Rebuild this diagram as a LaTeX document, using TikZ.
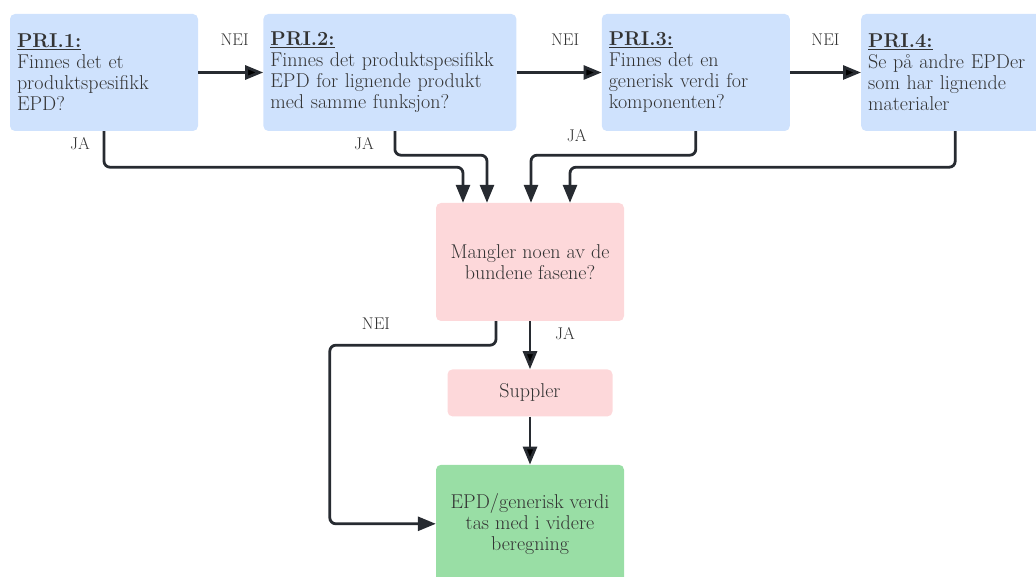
\documentclass[tikz,border=0pt]{standalone}
\usepackage{fontspec}
\usepackage{tikz}
\usetikzlibrary{arrows,arrows.meta,positioning}
\definecolor{priblue}{HTML}{CFE2FD}
\definecolor{checkpink}{HTML}{FDD8DA}
\definecolor{donegreen}{HTML}{99DEA5}
\definecolor{linegrey}{HTML}{272B31}
\definecolor{textgrey}{HTML}{333333}
\tikzset{
    %Define standard arrow tip
    >={Triangle[length=18pt,width=14pt]},
    %Define style for question boxes
    pribox/.style={
           rectangle,
           rounded corners=5pt,
           fill=priblue,
           text=textgrey,
           inner sep=7pt,
           text width=#1,
           minimum height=117pt,
           align=left,
           font=\fontsize{20}{21}\selectfont},
    checkbox/.style={
           rectangle,
           rounded corners=5pt,
           fill=checkpink,
           text=textgrey,
           minimum width=188pt,
           minimum height=118pt,
           align=center,
           font=\fontsize{20}{21}\selectfont},
    donebox/.style={
           checkbox,
           fill=donegreen},
    lbl/.style={
           inner sep=0pt,
           text=textgrey,
           font=\fontsize{17}{17}\selectfont},
    % Define arrow style
    flow/.style={
           ->,
           draw=linegrey,
           line width=2.8pt,
           rounded corners=6pt}
}

\begin{document}
\begin{tikzpicture}[x=1pt,y=1pt,node distance=48pt]
\useasboundingbox (0,0) rectangle (1036,-577);
\clip (0,0) rectangle (1036,-577);
\node[pribox=174pt](pri1) at (104,-72.5){\underline{\textbf{PRI.1:}}\\Finnes det et\\produktspesifikk\\EPD?};
\node[pribox=239pt, right=65pt of pri1](pri2){\underline{\textbf{PRI.2:}}\\Finnes det produktspesifikk\\EPD for lignende produkt\\med samme funksjon?};
\node[pribox=174pt, right=85pt of pri2](pri3){\underline{\textbf{PRI.3:}}\\Finnes det en\\generisk verdi for\\komponenten?};
\node[pribox=174pt, right=71pt of pri3](pri4){\underline{\textbf{PRI.4:}}\\Se på andre EPDer\\som har lignende\\materialer};
\node[checkbox](mangler) at (530,-262){Mangler noen av de\\bundene fasene?};
\node[checkbox, minimum width=165pt, minimum height=47pt, below=of mangler](suppler){Suppler};
\node[donebox, below=of suppler](epd){EPD/generisk verdi\\tas med i videre\\beregning};

\path[flow]
	(pri1) edge node[lbl, midway, yshift=33pt, xshift=4pt](nei1){NEI} (pri2)
	(pri2) edge node[lbl, midway, yshift=33pt, xshift=6pt](nei2){NEI} (pri3)
	(pri3) edge node[lbl, midway, yshift=33pt](nei3){NEI} (pri4)
	(mangler) edge (suppler)
	(suppler) edge (epd);

\draw[flow] (pri1.south) -- ++(0,-36) -| ([xshift=-67pt]mangler.north);
\draw[flow] ([xshift=5pt]pri2.south) -- ++(0,-24) -| ([xshift=-43pt]mangler.north);
\draw[flow] (pri3.south) -- ++(0,-24) -| ([xshift=1pt]mangler.north);
\draw[flow] (pri4.south) -- ++(0,-36) -| ([xshift=40pt]mangler.north);
\draw[flow] ([xshift=-34pt]mangler.south) -- ++(0,-24) -| ([xshift=-106pt]epd.west) -- (epd.west);

\node[lbl](ja1) at ([xshift=-24pt,yshift=-12pt]pri1.south){JA};
\node[lbl](ja2) at ([xshift=-26pt,yshift=-12pt]pri2.south){JA};
\node[lbl](ja3) at ([xshift=-119pt,yshift=-4pt]pri3.south){JA};
\node[lbl](nei4) at ([xshift=-154pt,yshift=-2pt]mangler.south){NEI};
\node[lbl](ja4) at ([xshift=35pt,yshift=-12pt]mangler.south){JA};
\end{tikzpicture}
\end{document}
